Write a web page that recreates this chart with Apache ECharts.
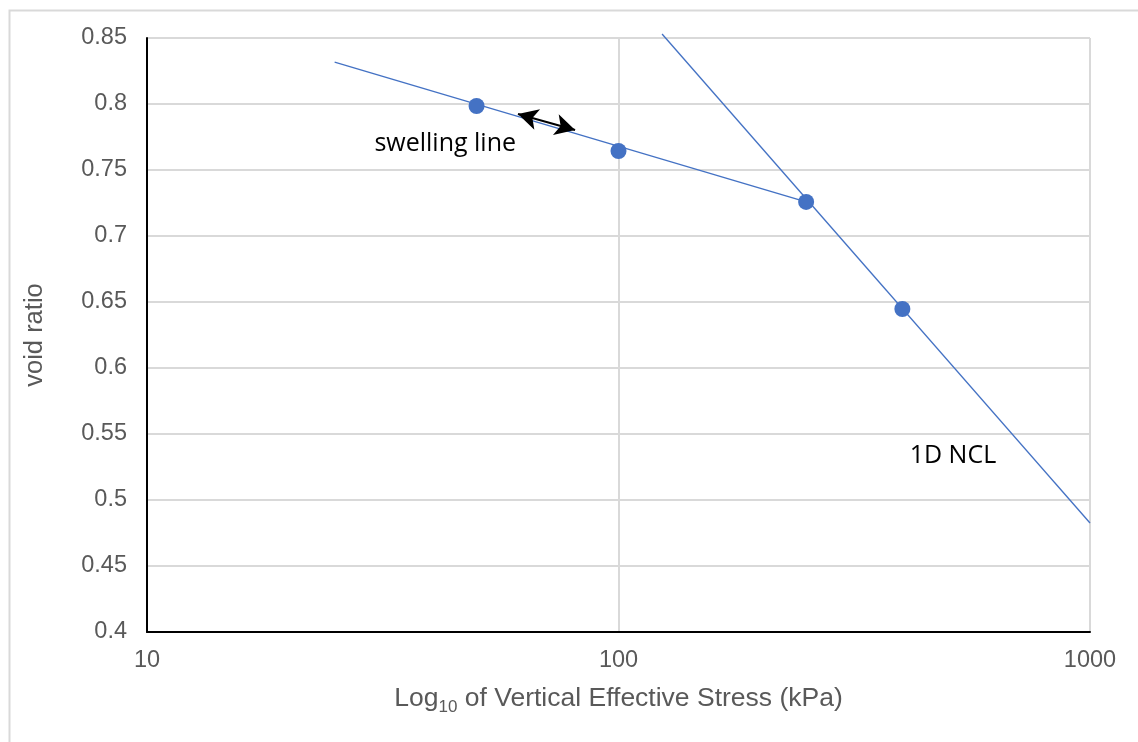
<!doctype html>
<html lang="en">
    <head>
        <meta charset="UTF-8">
        <title>void ratio</title>
        <style>
            html, body { margin: 0; padding: 0; background: #fff; }
            #main { width: 1138px; height: 742px; }
        </style>
    </head>
    <body>
        <div id="main"></div>
        <script src="https://cdn.jsdelivr.net/npm/echarts@6/dist/echarts.min.js"></script>
        <script type="text/javascript">
            // test points (stress kPa, void ratio)
            var stress = [50, 100, 250, 400];
            var voidRatio = [0.7985, 0.7644, 0.7258, 0.6447];

            // swelling line and 1D NCL end points
            var swellingLine = [[25, 0.8318], [250, 0.7258]];
            var nclLine = [[123.7, 0.853], [1000, 0.4826]];

            // double arrow along the swelling line
            var arrowEnds = [[61.2, 0.7924], [80.9, 0.7803]];

            // text notes: label, stress, void ratio
            var noteText = ['swelling line', '1D NCL'];
            var noteX = [42.9, 512];
            var noteY = [0.7697, 0.5333];

            var yTicks = [0.4, 0.85, 0.05];
            var xRange = [10, 1000];

            var blue = '#4472C4';
            var grey = '#595959';

            var points = stress.map(function (s, i) { return [s, voidRatio[i]]; });
            var notes = noteText.map(function (t, i) {
                return { name: t, coord: [noteX[i], noteY[i]] };
            });

            var myChart = echarts.init(document.getElementById('main'));

            var option = {
                backgroundColor: '#fff',
                animation: false,
                textStyle: { fontFamily: 'Liberation Sans, Arial, sans-serif' },
                graphic: [{
                    type: 'rect',
                    left: 7,
                    top: 8,
                    z: -1,
                    shape: { width: 1200, height: 800 },
                    style: { fill: 'none', stroke: '#d9d9d9', lineWidth: 2 }
                }],
                grid: {
                    left: 147,
                    right: 48,
                    top: 38,
                    bottom: 110
                },
                xAxis: {
                    type: 'log',
                    logBase: 10,
                    min: xRange[0],
                    max: xRange[1],
                    name: '{a|Log}{s|10}{a| of Vertical Effective Stress (kPa)}',
                    nameLocation: 'middle',
                    nameGap: 50,
                    nameTextStyle: {
                        rich: {
                            a: { fontSize: 26.5, color: grey, lineHeight: 34, verticalAlign: 'middle' },
                            s: { fontSize: 17, color: grey, lineHeight: 16, verticalAlign: 'bottom' }
                        }
                    },
                    axisLine: { lineStyle: { color: '#000', width: 2 } },
                    axisTick: { show: false },
                    minorTick: { show: false },
                    axisLabel: {
                        color: grey, fontSize: 23.5, margin: 17,
                        formatter: function (v) { return String(v); }
                    },
                    splitLine: { show: true, lineStyle: { color: '#d9d9d9', width: 2 } }
                },
                yAxis: {
                    type: 'value',
                    min: yTicks[0],
                    max: yTicks[1],
                    interval: yTicks[2],
                    name: 'void ratio',
                    nameLocation: 'middle',
                    nameGap: 99,
                    nameTextStyle: { color: grey, fontSize: 25.5 },
                    axisLine: { show: true, lineStyle: { color: '#000', width: 2 } },
                    axisTick: { show: false },
                    axisLabel: { color: grey, fontSize: 23.5, margin: 20 },
                    splitLine: { show: true, lineStyle: { color: '#d9d9d9', width: 2 } }
                },
                series: [
                    {
                        name: 'swelling line',
                        type: 'line',
                        data: swellingLine,
                        symbol: 'none',
                        lineStyle: { color: blue, width: 1.3 }
                    },
                    {
                        name: '1D NCL',
                        type: 'line',
                        data: nclLine,
                        symbol: 'none',
                        clip: false,
                        lineStyle: { color: blue, width: 1.3 }
                    },
                    {
                        name: 'tests',
                        type: 'scatter',
                        data: points,
                        symbol: 'circle',
                        symbolSize: 16,
                        itemStyle: { color: blue, opacity: 1 },
                        z: 5,
                        markLine: {
                            silent: true,
                            symbol: ['arrow', 'arrow'],
                            symbolSize: [16, 20],
                            label: { show: false },
                            lineStyle: { color: '#000', width: 2, type: 'solid' },
                            data: [[{ coord: arrowEnds[0] }, { coord: arrowEnds[1] }]]
                        },
                        markPoint: {
                            silent: true,
                            symbol: 'circle',
                            symbolSize: 0,
                            label: {
                                show: true,
                                position: 'inside',
                                formatter: '{b}',
                                color: '#000',
                                fontSize: 25,
                                fontFamily: 'Open Sans'
                            },
                            data: notes
                        }
                    }
                ]
            };

            myChart.setOption(option);
        </script>
    </body>
</html>
